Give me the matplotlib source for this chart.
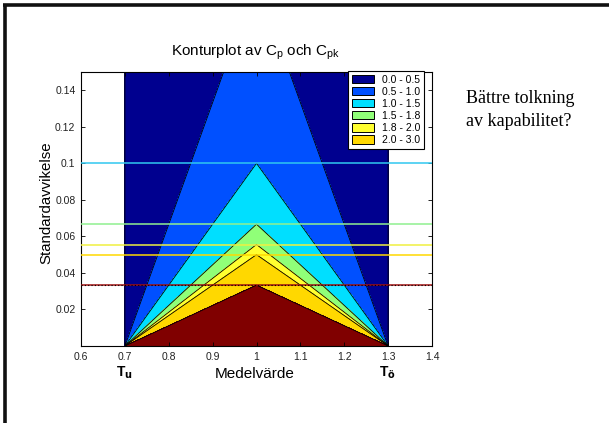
import numpy as np
import matplotlib
matplotlib.use("Agg")
import matplotlib.pyplot as plt
from matplotlib.patches import Patch
from matplotlib.lines import Line2D

# ---- data ----
LSL = 0.7           # T_u
USL = 1.3           # T_ö
levels = [0.0, 0.5, 1.0, 1.5, 1.8, 2.0, 3.0, 1e9]
fill_colors = ["#00008F", "#0050FF", "#00DFFF", "#90FF78", "#FFFF30", "#FFD800", "#800000"]
legend_labels = ["0.0 - 0.5", "0.5 - 1.0", "1.0 - 1.5", "1.5 - 1.8", "1.8 - 2.0", "2.0 - 3.0"]
cp_values = [1.0, 1.5, 1.8, 2.0, 3.0]
cp_colors = ["#30C8F0", "#90F090", "#F0F040", "#FFD800", "#A01010"]
xticks = [0.6, 0.7, 0.8, 0.9, 1.0, 1.1, 1.2, 1.3, 1.4]
xticklabels = ["0.6", "0.7", "0.8", "0.9", "1", "1.1", "1.2", "1.3", "1.4"]
yticks = [0.02, 0.04, 0.06, 0.08, 0.1, 0.12, 0.14]
yticklabels = ["0.02", "0.04", "0.06", "0.08", "0.1", "0.12", "0.14"]

plt.rcParams['font.family'] = ['Liberation Sans', 'DejaVu Sans']

W, H = 609, 423
fig = plt.figure(figsize=(W / 100, H / 100), dpi=100)

# slide frame
fig.add_artist(Line2D([5 / W, 5 / W], [0, 1 - 4.5 / H], transform=fig.transFigure,
                      color="#111111", lw=2.6, solid_capstyle="butt"))
fig.add_artist(Line2D([3.2 / W, 1], [1 - 5 / H, 1 - 5 / H], transform=fig.transFigure,
                      color="#111111", lw=2.6, solid_capstyle="butt"))

ax = fig.add_axes([81 / W, 1 - 346 / H, (432 - 81) / W, (346 - 72) / H])

mu = np.linspace(0.6, 1.4, 1601)
sigma = np.linspace(0.0002, 0.15, 900)
M, S = np.meshgrid(mu, sigma)
cpk = np.minimum(M - LSL, USL - M) / (3 * S)
cpk = np.ma.masked_less(cpk, 0)

ax.contourf(M, S, cpk, levels=levels, colors=fill_colors)
ax.contour(M, S, cpk, levels=levels[:-1], colors="black", linewidths=0.6)

for cp, c in zip(cp_values, cp_colors):
    s = (USL - LSL) / (6 * cp)
    ax.axhline(s, color=c, lw=1.1, zorder=5)
    if cp == 3.0:
        ax.axhline(s, color="black", lw=0.8, ls=(0, (1, 2)), zorder=6)

ax.set_xlim(0.6, 1.4)
ax.set_ylim(0, 0.15)
ax.set_xticks(xticks)
ax.set_xticklabels(xticklabels)
ax.set_yticks(yticks)
ax.set_yticklabels(yticklabels)
ax.tick_params(direction="in", length=3, width=0.6, labelsize=7.5, top=True, right=True,
               pad=4, labelcolor="#222222")
for sp in ax.spines.values():
    sp.set_linewidth(0.8)

fig.text(256 / W, 1 - 52 / H, "Konturplot av C$_\\mathregular{p}$ och C$_\\mathregular{pk}$",
         fontsize=11, ha="center", va="center")
fig.text(46 / W, 1 - 203 / H, "Standardavvikelse", fontsize=10.8, rotation=90,
         ha="center", va="center")
fig.text(255 / W, 1 - 378 / H, "Medelvärde", fontsize=11, ha="center", va="baseline")

handles = [Patch(facecolor=c, edgecolor="black", lw=0.7) for c in fill_colors[:6]]
leg = ax.legend(handles, legend_labels, loc="upper right", fontsize=7.5, frameon=True,
                fancybox=False, edgecolor="black", framealpha=1,
                bbox_to_anchor=(424 / W, 1 - 71 / H), bbox_transform=fig.transFigure,
                borderaxespad=0.0, handlelength=2.1, handleheight=0.85,
                labelspacing=0.2, borderpad=0.35, handletextpad=0.8)
leg.get_frame().set_linewidth(0.8)

fig.text(124 / W, 1 - 373 / H, "T$_\\mathbf{u}$", fontsize=10, fontweight="bold",
         ha="center", va="center")
fig.text(387 / W, 1 - 373 / H, "T$_\\mathbf{ö}$", fontsize=10, fontweight="bold",
         ha="center", va="center")

fig.text(466 / W, 1 - 103 / H, "Bättre tolkning", fontsize=13,
         family=["Liberation Serif", "DejaVu Serif"], ha="left", va="baseline")
fig.text(466 / W, 1 - 126 / H, "av kapabilitet?", fontsize=13,
         family=["Liberation Serif", "DejaVu Serif"], ha="left", va="baseline")

fig.savefig("out.png", dpi=100, facecolor="white")
